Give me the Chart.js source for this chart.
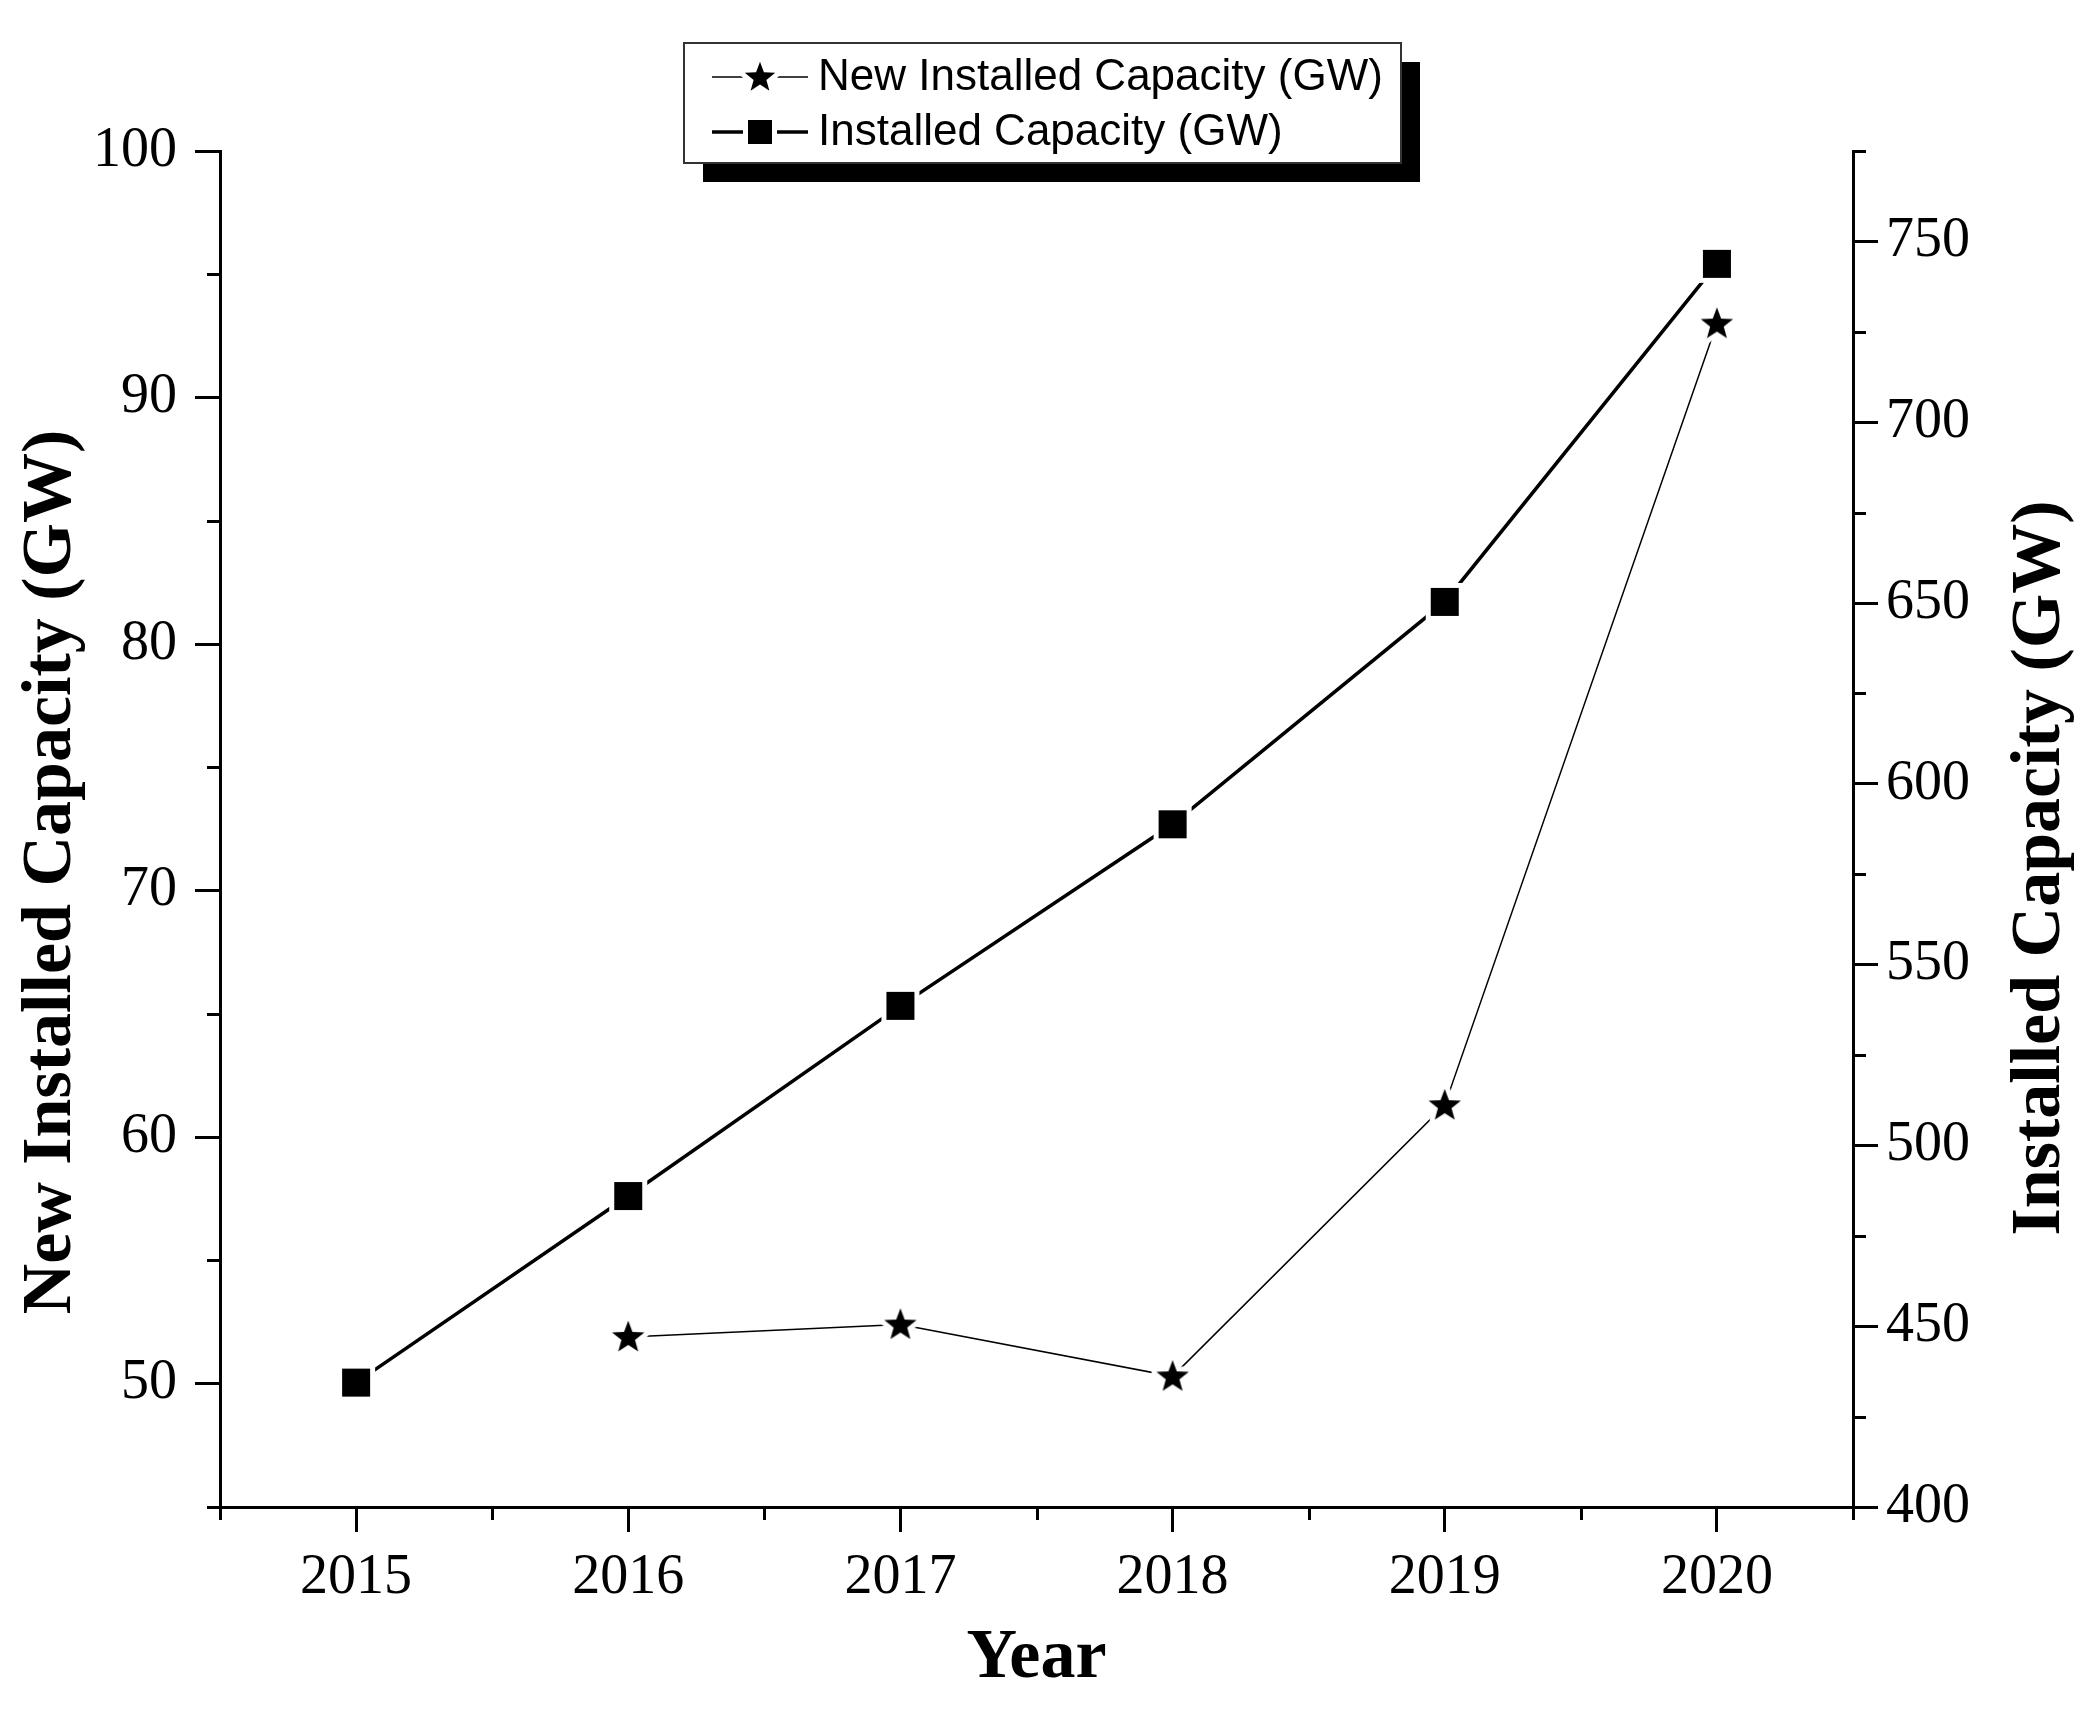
<!DOCTYPE html>
<html>
<head>
<meta charset="utf-8">
<script src="https://cdn.jsdelivr.net/npm/chart.js@4.4.1/dist/chart.umd.min.js"></script>
<style>
  html, body { margin: 0; padding: 0; background: #fff; }
  #wrap { width: 2095px; height: 1711px; }
</style>
</head>
<body>
<div id="wrap"><canvas id="chart" width="2095" height="1711"></canvas></div>
<script>
// Datos
const years = [2015, 2016, 2017, 2018, 2019, 2020];
const newCapacity = [null, 51.9, 52.4, 50.3, 61.3, 93.0];
const installedCapacity = [434.4, 486.0, 538.6, 588.8, 650.3, 743.8];

const leftTicks = [50, 60, 70, 80, 90, 100];
const rightTicks = [400, 450, 500, 550, 600, 650, 700, 750];
const yearTicks = [2015, 2016, 2017, 2018, 2019, 2020];

const seriesNames = ['New Installed Capacity (GW)', 'Installed Capacity (GW)'];
const leftTitle = 'New Installed Capacity (GW)';
const rightTitle = 'Installed Capacity (GW)';
const xTitle = 'Year';

const SERIF = '"Liberation Serif", "Times New Roman", serif';
const SANS = '"Liberation Sans", Arial, sans-serif';

// Marcadores: estrella y cuadrado con halo blanco (hueco en la línea)
function starCanvas(r, halo) {
    const size = Math.ceil(2 * (r + halo)) + 2;
    const c = document.createElement('canvas');
    c.width = c.height = size;
    const g = c.getContext('2d');
    const cx = size / 2, cy = size / 2 + r * 0.05;
    g.beginPath();
    for (let i = 0; i < 10; i++) {
        const rad = i % 2 ? r * 0.42 : r;
        const a = -Math.PI / 2 + i * Math.PI / 5;
        g.lineTo(cx + rad * Math.cos(a), cy + rad * Math.sin(a));
    }
    g.closePath();
    if (halo) {
        g.strokeStyle = '#fff';
        g.lineWidth = 2 * halo;
        g.lineJoin = 'round';
        g.stroke();
    }
    g.fillStyle = '#000';
    g.fill();
    return c;
}

function squareCanvas(s, halo) {
    const size = Math.ceil(s + 2 * halo) + 2;
    const c = document.createElement('canvas');
    c.width = c.height = size;
    const g = c.getContext('2d');
    const o = (size - s) / 2;
    if (halo) {
        g.fillStyle = '#fff';
        g.fillRect(o - halo, o - halo, s + 2 * halo, s + 2 * halo);
    }
    g.fillStyle = '#000';
    g.fillRect(o, o, s, s);
    return c;
}

const starMark = starCanvas(17, 5);
const squareMark = squareCanvas(28, 5);
const legendMarks = [starCanvas(16, 5), squareCanvas(24, 5)];
const legendWidths = [1.5, 3.5];

// Rayas menores entre las principales
const minorTicks = {
    id: 'minorTicks',
    afterDraw(chart) {
        const ctx = chart.ctx;
        ctx.save();
        ctx.strokeStyle = '#000';
        ctx.lineWidth = 3;
        const len = 13;
        ['x', 'y', 'y1'].forEach(id => {
            const s = chart.scales[id];
            const t = s.ticks.map(k => k.value);
            const step = t[1] - t[0];
            for (let v = t[0] - step / 2; v <= s.max + 1e-9; v += step) {
                if (v < s.min - 1e-9) continue;
                const p = Math.round(s.getPixelForValue(v)) + 0.5;
                ctx.beginPath();
                if (id === 'x') {
                    ctx.moveTo(p, s.top);
                    ctx.lineTo(p, s.top + len);
                } else if (s.position === 'left') {
                    ctx.moveTo(s.right, p);
                    ctx.lineTo(s.right - len, p);
                } else {
                    ctx.moveTo(s.left, p);
                    ctx.lineTo(s.left + len, p);
                }
                ctx.stroke();
            }
        });
        ctx.restore();
    }
};

// Títulos de los ejes
const axisTitles = {
    id: 'axisTitles',
    afterDraw(chart) {
        const ctx = chart.ctx;
        const a = chart.chartArea;
        const midY = (a.top + a.bottom) / 2;
        ctx.save();
        ctx.fillStyle = '#000';
        ctx.font = 'bold 70px ' + SERIF;
        ctx.textAlign = 'center';
        ctx.textBaseline = 'middle';

        ctx.save();
        ctx.translate(a.left - 168, midY + 43);
        ctx.rotate(-Math.PI / 2);
        ctx.fillText(leftTitle, 0, 0);
        ctx.restore();

        ctx.save();
        ctx.translate(a.right + 188, midY + 39);
        ctx.rotate(-Math.PI / 2);
        ctx.fillText(rightTitle, 0, 0);
        ctx.restore();

        ctx.fillText(xTitle, (a.left + a.right) / 2, a.bottom + 152);
        ctx.restore();
    }
};

// Leyenda con sombra
const boxLegend = {
    id: 'boxLegend',
    afterDraw(chart) {
        const ctx = chart.ctx;
        const x0 = 684, y0 = 43, w = 717, h = 120, sh = 19;
        ctx.save();
        ctx.fillStyle = '#000';
        ctx.fillRect(x0 + sh, y0 + sh, w, h);
        ctx.fillStyle = '#fff';
        ctx.fillRect(x0, y0, w, h);
        ctx.strokeStyle = '#333';
        ctx.lineWidth = 2;
        ctx.strokeRect(x0, y0, w, h);

        ctx.font = '44px ' + SANS;
        ctx.textAlign = 'left';
        ctx.textBaseline = 'middle';
        seriesNames.forEach((name, i) => {
            const cy = 77 + i * 55;
            ctx.strokeStyle = '#000';
            ctx.lineWidth = legendWidths[i];
            ctx.beginPath();
            ctx.moveTo(712, cy);
            ctx.lineTo(808, cy);
            ctx.stroke();
            const m = legendMarks[i];
            ctx.drawImage(m, 760 - m.width / 2, cy - m.height / 2);
            ctx.fillStyle = '#000';
            ctx.fillText(name, 818, cy + 1);
        });
        ctx.restore();
    }
};

const tickStyle = {
    grid: { drawOnChartArea: false, drawTicks: true, tickLength: 25, tickWidth: 3, tickColor: '#000' },
    border: { display: true, width: 3, color: '#000' }
};

new Chart(document.getElementById('chart'), {
    type: 'line',
    data: {
        datasets: [{
            label: seriesNames[0],
            data: years.map((y, i) => ({ x: y, y: newCapacity[i] })),
            yAxisID: 'y',
            borderColor: '#000',
            borderWidth: 1.5,
            pointStyle: starMark,
            pointRadius: 17,
            tension: 0
        }, {
            label: seriesNames[1],
            data: years.map((y, i) => ({ x: y, y: installedCapacity[i] })),
            yAxisID: 'y1',
            borderColor: '#000',
            borderWidth: 3.5,
            pointStyle: squareMark,
            pointRadius: 14,
            tension: 0
        }]
    },
    options: {
        responsive: false,
        animation: false,
        events: [],
        layout: { padding: { top: 151, left: 0, right: 0, bottom: 0 } },
        plugins: { legend: { display: false }, tooltip: { enabled: false } },
        scales: {
            x: {
                type: 'linear',
                min: 2014.5,
                max: 2020.5,
                ...tickStyle,
                afterBuildTicks: s => { s.ticks = yearTicks.map(v => ({ value: v })); },
                afterFit: s => { s.height = 204; },
                ticks: { color: '#000', padding: 13, font: { family: SERIF, size: 56 }, callback: v => String(v) }
            },
            y: {
                position: 'left',
                min: 45,
                max: 100,
                ...tickStyle,
                afterBuildTicks: s => { s.ticks = leftTicks.map(v => ({ value: v })); },
                afterFit: s => { s.width = 220; },
                ticks: { color: '#000', padding: 18, font: { family: SERIF, size: 56 }, callback: v => String(v) }
            },
            y1: {
                position: 'right',
                min: 400,
                max: 775,
                ...tickStyle,
                afterBuildTicks: s => { s.ticks = rightTicks.map(v => ({ value: v })); },
                afterFit: s => { s.width = 242; },
                ticks: { color: '#000', padding: 8, font: { family: SERIF, size: 56 }, callback: v => String(v) }
            }
        }
    },
    plugins: [minorTicks, axisTitles, boxLegend]
});
</script>
</body>
</html>
